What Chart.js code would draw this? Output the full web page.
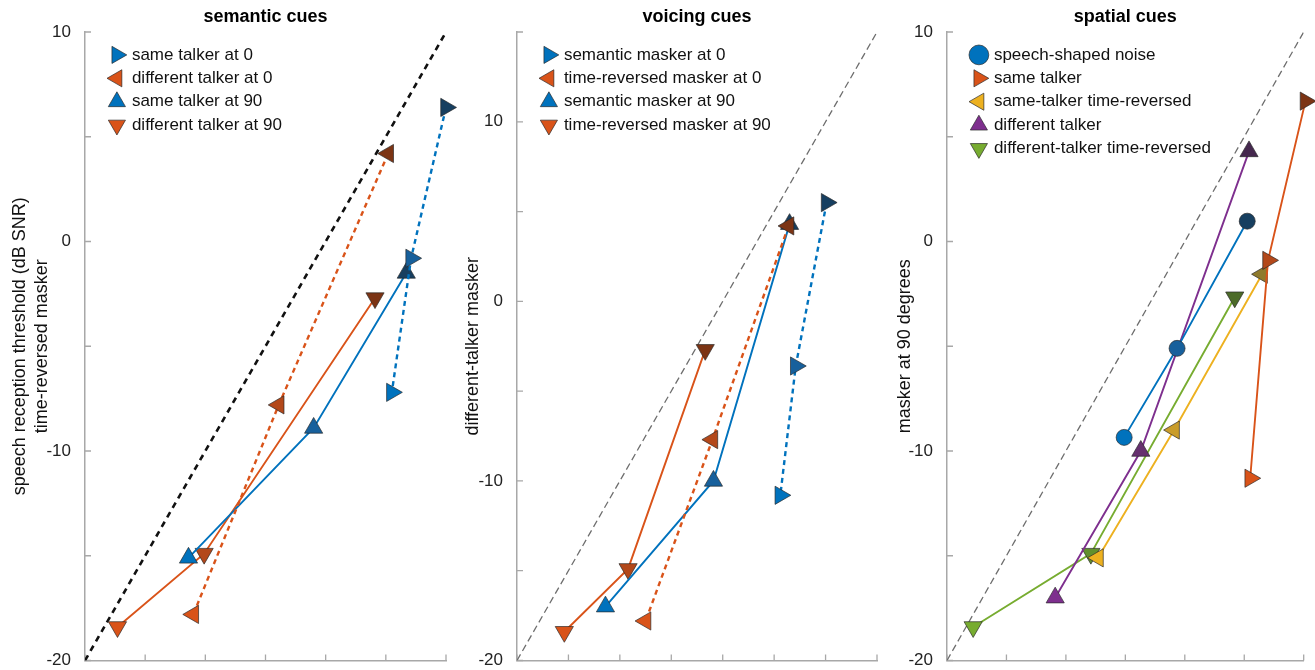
<!DOCTYPE html>
<html>
<head>
<meta charset="utf-8">
<script src="https://cdn.jsdelivr.net/npm/chart.js@4.4.1/dist/chart.umd.min.js"></script>
<style>
  html, body { margin: 0; padding: 0; background: #fff; overflow: hidden; }
  .panel { position: absolute; top: 0; height: 675px; }
</style>
</head>
<body>
<div class="panel" style="left:0;width:460px"><canvas id="semantic"></canvas></div>
<div class="panel" style="left:460px;width:430px"><canvas id="voicing"></canvas></div>
<div class="panel" style="left:890px;width:425px"><canvas id="spatial"></canvas></div>
<script>
// --- Daten (x = Referenzbedingung, y = Vergleichsbedingung, dB SNR) ---
const semanticLabels = ['same talker at 0', 'different talker at 0', 'same talker at 90', 'different talker at 90'];
const semSameTalker0 = [[10.0, 6.4], [7.1, -0.8], [5.5, -7.2]];
const semDiffTalker0 = [[5.2, 4.2], [-3.9, -7.8], [-11.0, -17.8]];
const semSameTalker90 = [[6.7, -1.5], [-1.0, -8.9], [-11.4, -15.1]];
const semDiffTalker90 = [[4.1, -2.7], [-10.1, -14.9], [-17.3, -18.4]];

const voicingLabels = ['semantic masker at 0', 'time-reversed masker at 0', 'semantic masker at 90', 'time-reversed masker at 90'];
const voiSemantic0 = [[10.1, 5.5], [7.1, -3.6], [5.6, -10.8]];
const voiReversed0 = [[6.4, 4.2], [-1.0, -7.7], [-7.5, -17.8]];
const voiSemantic90 = [[6.5, 4.3], [-0.9, -10.0], [-11.4, -17.0]];
const voiReversed90 = [[-1.7, -2.7], [-9.2, -14.9], [-15.4, -18.4]];

const spatialLabels = ['speech-shaped noise', 'same talker', 'same-talker time-reversed', 'different talker', 'different-talker time-reversed'];
const spaNoise = [[5.25, 0.97], [-0.65, -5.1], [-5.1, -9.35]];
const spaSame = [[10.15, 6.7], [7.0, -0.9], [5.5, -11.3]];
const spaSameRev = [[6.5, -1.56], [-0.9, -9.0], [-7.3, -15.1]];
const spaDiff = [[5.4, 4.3], [-3.7, -10.0], [-10.9, -17.0]];
const spaDiffRev = [[4.2, -2.66], [-7.9, -14.9], [-17.8, -18.4]];

const semanticRange = [-20, 10];
const voicingRange = [-20, 15];
const spatialRange = [-20, 10];
const tickStep = 5;
const labelledTicks = [-20, -10, 0, 10];

// --- Stil ---
const FONT = "'Liberation Sans', Arial, sans-serif";
const AXIS_COLOR = '#a8a8a8';
// dunkel / mittel / normal (erster Punkt jeder Reihe ist am dunkelsten)
const shades = {
    blue:   ['#173f60', '#17609c', '#0072bd'],
    orange: ['#7c3414', '#b3481a', '#d95319'],
    yellow: ['#8f7a2c', '#c99c2a', '#edb120'],
    purple: ['#45284e', '#66306f', '#7e2f8e'],
    green:  ['#4c6b29', '#62902c', '#77ac30']
};
const ROT = { up: 0, right: 90, down: 180, left: 270 };

function makeSeries(label, points, hue, marker, dashed) {
    return {
        label: label,
        data: points.map(p => ({ x: p[0], y: p[1] })),
        showLine: true,
        borderColor: shades[hue][2],
        borderWidth: dashed ? 2.4 : 1.9,
        borderDash: dashed ? [5, 4] : [],
        pointStyle: marker === 'circle' ? 'circle' : 'triangle',
        pointRotation: ROT[marker] || 0,
        pointRadius: marker === 'circle' ? 8 : 10.5,
        pointBackgroundColor: shades[hue],
        pointBorderColor: 'rgba(40,40,40,0.85)',
        pointBorderWidth: 0.8,
        baseColor: shades[hue][2],
        clip: false
    };
}

function diagonal(range, color, width, dash) {
    return {
        label: 'identity',
        isDiagonal: true,
        data: [{ x: range[0], y: range[0] }, { x: range[1], y: range[1] }],
        showLine: true,
        borderColor: color,
        borderWidth: width,
        borderDash: dash,
        pointRadius: 0,
        order: 10
    };
}

// Achsen-Ticks nach innen, Legende und Titel an der Plotfläche ausrichten
const panelPlugin = {
    id: 'panelPlugin',
    afterLayout(chart) {
        const a = chart.chartArea;
        chart.titleBlock.left = a.left;
        chart.titleBlock.right = a.right;
        chart.legend.left = a.left + 19;
        chart.legend.top = a.top + 8;
    },
    beforeDatasetsDraw(chart) {
        const { ctx, chartArea: a, scales: { x, y } } = chart;
        ctx.save();
        ctx.strokeStyle = AXIS_COLOR;
        ctx.lineWidth = 1.3;
        ctx.beginPath();
        x.ticks.forEach(t => {
            const px = x.getPixelForValue(t.value);
            ctx.moveTo(px, a.bottom);
            ctx.lineTo(px, a.bottom - 6);
        });
        y.ticks.forEach(t => {
            const py = y.getPixelForValue(t.value);
            ctx.moveTo(a.left, py);
            ctx.lineTo(a.left + 6, py);
        });
        ctx.stroke();
        ctx.restore();
    }
};

function createPanel(cfg) {
    const ctx = document.getElementById(cfg.canvas).getContext('2d');
    return new Chart(ctx, {
        type: 'scatter',
        data: { datasets: cfg.datasets },
        plugins: [panelPlugin],
        options: {
            responsive: true,
            maintainAspectRatio: false,
            animation: false,
            events: [],
            layout: { padding: { right: cfg.rightPad } },
            plugins: {
                title: {
                    display: true,
                    text: cfg.title,
                    color: '#000',
                    font: { family: FONT, size: 18, weight: 'bold' },
                    padding: { top: 6, bottom: 4.4 }
                },
                legend: {
                    position: 'chartArea',
                    align: 'start',
                    labels: {
                        usePointStyle: true,
                        boxWidth: 13,
                        boxHeight: 14,
                        padding: 6.4,
                        color: '#111',
                        font: { family: FONT, size: 17 },
                        filter: (item, data) => !data.datasets[item.datasetIndex].isDiagonal,
                        generateLabels(chart) {
                            const items = Chart.defaults.plugins.legend.labels.generateLabels(chart);
                            items.forEach(it => {
                                const ds = chart.data.datasets[it.datasetIndex];
                                if (ds.baseColor) it.fillStyle = ds.baseColor;
                            });
                            return items;
                        }
                    }
                },
                tooltip: { enabled: false }
            },
            scales: {
                x: {
                    type: 'linear',
                    min: cfg.range[0],
                    max: cfg.range[1],
                    ticks: { stepSize: tickStep, display: false },
                    grid: { display: false },
                    border: { color: AXIS_COLOR, width: 1.5 },
                    afterFit: s => { s.height = 4; }
                },
                y: {
                    type: 'linear',
                    min: cfg.range[0],
                    max: cfg.range[1],
                    ticks: {
                        stepSize: tickStep,
                        padding: 6,
                        color: '#222',
                        font: { family: FONT, size: 17, lineHeight: 1 },
                        callback: v => labelledTicks.includes(v) ? v : ''
                    },
                    grid: { display: false },
                    border: { color: AXIS_COLOR, width: 1.5 },
                    title: {
                        display: true,
                        text: cfg.yTitle,
                        color: '#111',
                        font: { family: FONT, size: 18, lineHeight: 1.22 },
                        padding: { top: cfg.yTitlePad, bottom: 0 }
                    },
                    afterFit: s => { s.width = cfg.axisWidth; }
                }
            }
        }
    });
}

createPanel({
    canvas: 'semantic',
    title: 'semantic cues',
    yTitle: ['speech reception threshold (dB SNR)', 'time-reversed masker'],
    range: semanticRange,
    axisWidth: 85, yTitlePad: 9, rightPad: 14,
    datasets: [
        makeSeries(semanticLabels[0], semSameTalker0, 'blue', 'right', true),
        makeSeries(semanticLabels[1], semDiffTalker0, 'orange', 'left', true),
        makeSeries(semanticLabels[2], semSameTalker90, 'blue', 'up', false),
        makeSeries(semanticLabels[3], semDiffTalker90, 'orange', 'down', false),
        diagonal(semanticRange, '#111', 2.6, [6, 5])
    ]
});

createPanel({
    canvas: 'voicing',
    title: 'voicing cues',
    yTitle: 'different-talker masker',
    range: voicingRange,
    axisWidth: 57, yTitlePad: 2, rightPad: 13,
    datasets: [
        makeSeries(voicingLabels[0], voiSemantic0, 'blue', 'right', true),
        makeSeries(voicingLabels[1], voiReversed0, 'orange', 'left', true),
        makeSeries(voicingLabels[2], voiSemantic90, 'blue', 'up', false),
        makeSeries(voicingLabels[3], voiReversed90, 'orange', 'down', false),
        diagonal(voicingRange, '#6e6e6e', 1.3, [7, 4])
    ]
});

createPanel({
    canvas: 'spatial',
    title: 'spatial cues',
    yTitle: 'masker at 90 degrees',
    range: spatialRange,
    axisWidth: 57, yTitlePad: 4, rightPad: 6,
    datasets: [
        makeSeries(spatialLabels[0], spaNoise, 'blue', 'circle', false),
        makeSeries(spatialLabels[1], spaSame, 'orange', 'right', false),
        makeSeries(spatialLabels[2], spaSameRev, 'yellow', 'left', false),
        makeSeries(spatialLabels[3], spaDiff, 'purple', 'up', false),
        makeSeries(spatialLabels[4], spaDiffRev, 'green', 'down', false),
        diagonal(spatialRange, '#6e6e6e', 1.3, [7, 4])
    ]
});
</script>
</body>
</html>
